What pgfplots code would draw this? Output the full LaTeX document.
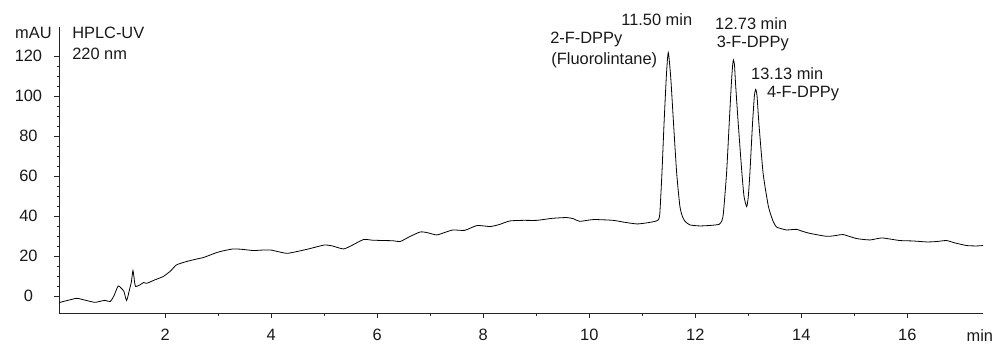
\documentclass[border=0pt]{standalone}
\usepackage{fontspec}
\setmainfont{Liberation Sans}
\usepackage{pgfplots}
\pgfplotsset{compat=1.18}
\newcommand{\chartfont}{\fontsize{12.3pt}{14.8pt}\selectfont}
\begin{document}
\chartfont
\begin{tikzpicture}[font=\chartfont]
\begin{axis}[
  scale only axis, width=693pt, height=214.5pt,
  xmin=0, xmax=17.43, ymin=-8.5, ymax=134.5,
  axis lines*=left,
  axis line style={line width=0.6pt, black!85},
  tick style={line width=0.6pt, black!85},
  tick align=outside,
  major tick length=3.75pt, minor tick length=2pt,
  xtick={2,4,...,16}, ytick={0,20,...,120},
  minor x tick num=1, minor y tick num=3,
  xticklabel={\chartfont\pgfmathprintnumber[assume math mode=true]{\tick}},
  yticklabel={\chartfont\pgfmathprintnumber[assume math mode=true]{\tick}},
  tick label style={font=\chartfont, text=black!90},
  xticklabel style={yshift=-4pt},
  yticklabel style={anchor=center, xshift=-19.4pt},
  clip=false,
]
\addplot[line width=0.6pt, black, smooth, tension=0.35] coordinates {
(0.00,-3.3) (0.15,-2.3) (0.33,-1.2) (0.50,-2.2) (0.67,-3.2) (0.80,-2.5) (0.86,-2.2) (0.96,-2.8)
(1.03,0) (1.11,5) (1.17,3.8) (1.22,2.2) (1.27,-2.3) (1.33,3.8) (1.36,7) (1.39,12.7) (1.42,7)
(1.44,4.7) (1.52,5.5) (1.59,6.7) (1.65,6.3) (1.80,8) (1.96,9.7) (2.10,12.5) (2.21,15.5)
(2.40,17.2) (2.60,18.5) (2.72,19.2) (2.97,21.7) (3.10,22.6) (3.28,23.5) (3.45,23.3) (3.66,22.7)
(3.80,22.9) (3.98,23) (4.12,22.2) (4.29,21.3) (4.45,22) (4.67,23.3) (4.85,24.5) (5.01,25.5)
(5.15,25) (5.36,23.5) (5.50,25) (5.74,28.2) (5.90,27.9) (6.11,27.7) (6.30,27.6) (6.43,27.2)
(6.60,29.5) (6.81,32) (6.95,31.6) (7.12,30.5) (7.28,31.8) (7.43,33) (7.65,32.8) (7.88,35.2)
(8.13,34.7) (8.30,35.7) (8.50,37.5) (8.75,37.8) (9.01,37.8) (9.30,38.8) (9.57,39.2) (9.70,38.6)
(9.82,37.3) (10.08,38.2) (10.45,37.8) (10.65,36.9) (10.90,36) (11.10,36.6) (11.24,37.3)
(11.30,38) (11.33,41) (11.37,61) (11.41,86) (11.45,108) (11.475,118.5) (11.49,121.7)
(11.505,119) (11.54,108) (11.59,86) (11.65,61) (11.71,44.7) (11.76,39.5) (11.81,37.2)
(11.90,35.5) (12.09,35) (12.30,35.3) (12.45,35.8) (12.50,37.5) (12.53,41.3) (12.59,61.3)
(12.64,86.3) (12.68,106) (12.705,115.5) (12.72,118) (12.74,115.5) (12.76,106) (12.81,86.3)
(12.88,61.3) (12.92,49.7) (12.97,44.7) (13.00,49.7) (13.03,61.3) (13.08,86.3) (13.115,100)
(13.14,103.3) (13.165,100) (13.20,86.3) (13.28,61.3) (13.38,44.7) (13.47,37.2) (13.53,34.5)
(13.60,33.8) (13.72,33) (13.91,33.3) (14.00,32.5) (14.16,31.3) (14.48,29.8) (14.65,30.2)
(14.79,30.7) (15.04,28.7) (15.30,28) (15.52,29) (15.86,27.7) (16.10,27.5) (16.37,27)
(16.55,27.2) (16.74,27.7) (16.90,26.5) (17.12,25.2) (17.30,25) (17.43,25.2)
};
\path (axis cs:-1.119,-24.5) (axis cs:17.655,148);
\begin{scope}[every node/.style={font=\chartfont, text=black!90, inner sep=0pt}]
\node[anchor=east] at (axis cs:-0.14,131.5) {mAU};
\node[anchor=west] at (axis cs:0.24,131.5) {HPLC-UV};
\node[anchor=west] at (axis cs:0.24,121) {220 nm};
\node[anchor=center] at (axis cs:17.37,-20) {min};
\node[anchor=west] at (axis cs:10.60,138) {11.50 min};
\node[anchor=west] at (axis cs:9.26,128.5) {2-F-DPPy};
\node[anchor=west] at (axis cs:9.28,118) {(Fluorolintane)};
\node[anchor=west] at (axis cs:12.37,136) {12.73 min};
\node[anchor=west] at (axis cs:12.40,126.3) {3-F-DPPy};
\node[anchor=west] at (axis cs:13.05,111.3) {13.13 min};
\node[anchor=west] at (axis cs:13.35,101.3) {4-F-DPPy};
\end{scope}
\end{axis}
\end{tikzpicture}
\end{document}
